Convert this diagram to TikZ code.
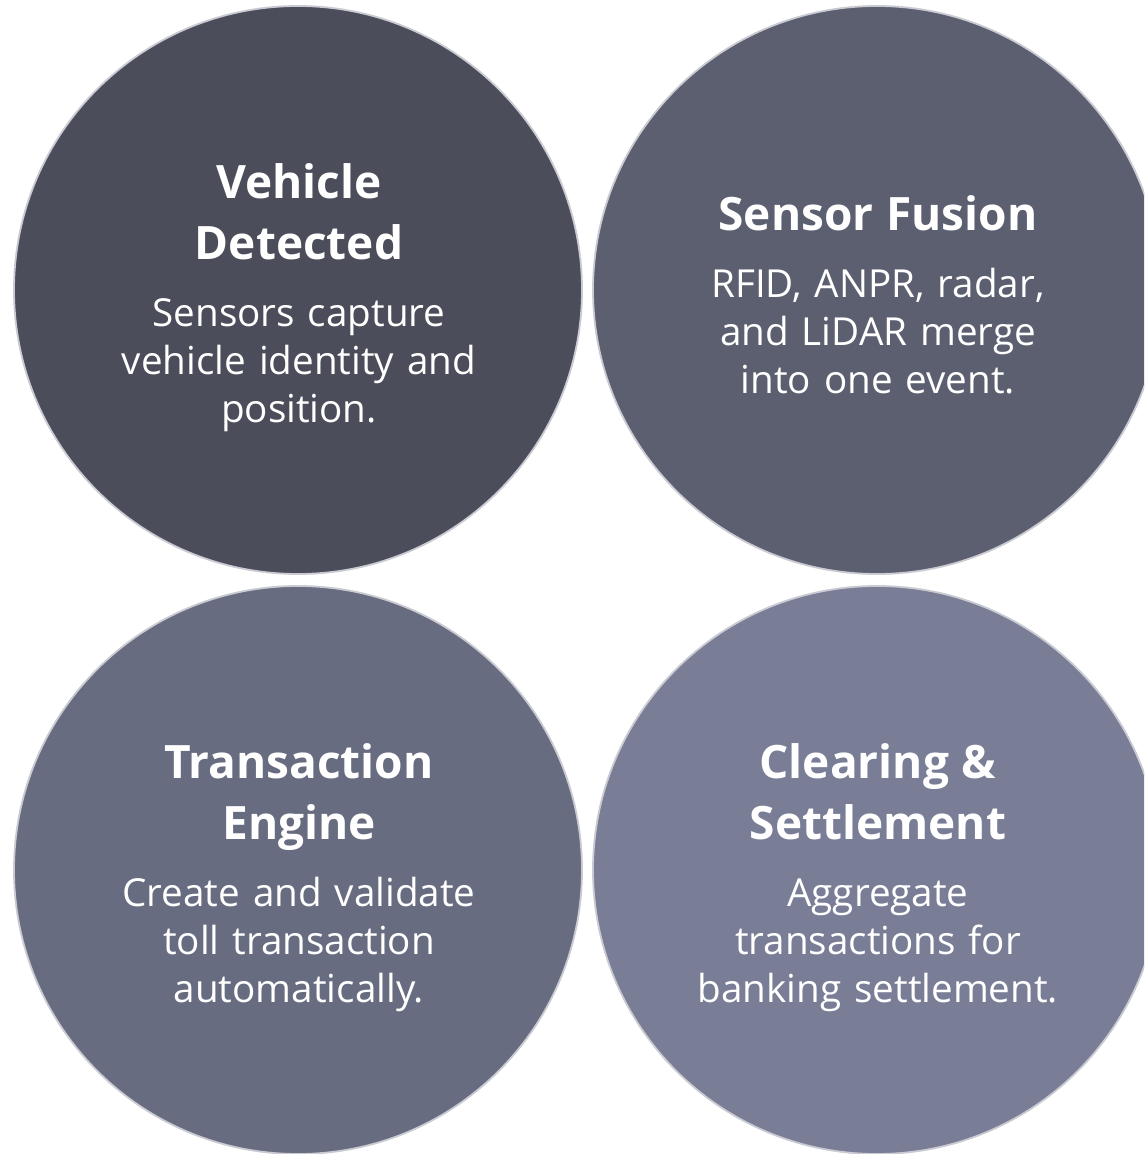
\documentclass[tikz,border=0pt]{standalone}
\usepackage{fontspec}
\setmainfont{Open Sans}
\usepackage{tikz}
\usetikzlibrary{calc}

\definecolor{stageA}{HTML}{4B4D5A}
\definecolor{stageB}{HTML}{5C5F70}
\definecolor{stageC}{HTML}{686C80}
\definecolor{stageD}{HTML}{797D96}
\definecolor{rim}{HTML}{C9CAD2}

\newcommand{\stagetitle}[1]{{\fontsize{23}{30.5}\selectfont\bfseries #1\par}\vspace{9.5pt}}

\tikzset{
	stage/.style={circle, draw=rim, line width=0.9pt, minimum size=284pt, inner sep=0pt, outer sep=0pt},
	stagetext/.style={text=white, align=center, text width=210pt, inner sep=0pt,
		font=\fontsize{19.3}{24}\selectfont}
}

\begin{document}
\begin{tikzpicture}[x=0.5pt, y=-0.5pt]
	\useasboundingbox[fill=white] (0,0) rectangle (1144,1154);
	\begin{scope}
		\clip (0,0) rectangle (1144,1154);

		\coordinate (C1) at (298, 290);
		\coordinate (C2) at (877, 290);
		\coordinate (C3) at (298, 870);
		\coordinate (C4) at (877, 870);

		\node[stage, fill=stageA] (vehicle) at (C1) {};
		\node[stage, fill=stageB] (fusion) at (C2) {};
		\node[stage, fill=stageC] (engine) at (C3) {};
		\node[stage, fill=stageD] (clearing) at (C4) {};

		\node[stagetext] (vehicletext) at ($(C1)+(1,8)$)
			{\stagetitle{Vehicle\\Detected}Sensors capture\\vehicle identity and\\position.};
		\node[stagetext] (fusiontext) at ($(C2)+(1,5)$)
			{\stagetitle{Sensor Fusion}RFID, ANPR, radar,\\and LiDAR merge\\into one event.};
		\node[stagetext] (enginetext) at ($(C3)+(1,8)$)
			{\stagetitle{Transaction\\Engine}Create and validate\\toll transaction\\automatically.};
		\node[stagetext] (clearingtext) at ($(C4)+(1,8)$)
			{\stagetitle{Clearing \&\\Settlement}Aggregate\\transactions for\\banking settlement.};
	\end{scope}
\end{tikzpicture}
\end{document}
